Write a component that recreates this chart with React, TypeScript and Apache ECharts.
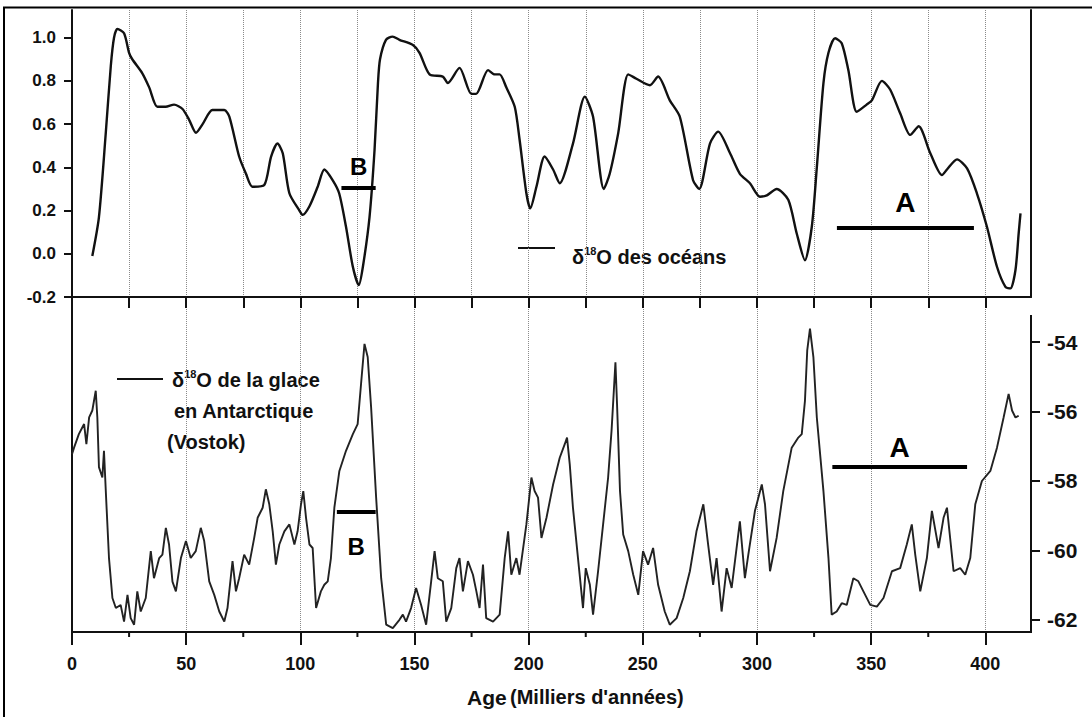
import React, { useEffect, useRef } from "react";
import * as echarts from "echarts";

// ---- data ----
const oceanAge = [8.9, 11.8, 14.8, 17, 18.4, 19.9, 22.8, 25, 26.4, 30.8, 33.8, 37.4, 41, 44.7, 48.4, 51.3, 54.3, 57.2, 61.5, 66.7, 68.9, 73.2, 76.2, 79, 84.2, 87.2, 90, 92.3, 95.2, 99.6, 101, 104, 107.6, 110.5, 114.2, 117, 120, 123, 125.6, 127.4, 130.3, 132.5, 134, 134.9, 137.5, 140.4, 143.4, 149.3, 152.2, 156.6, 162.4, 164.6, 169.7, 174.9, 177, 182.2, 185.1, 187.3, 190.2, 193.9, 196, 199, 200.7, 203.4, 207, 210.7, 213.6, 219.4, 224.6, 228.2, 232.9, 235.5, 239.2, 243.6, 247.2, 253.1, 256.7, 261.8, 266.2, 272, 274.7, 279.4, 283, 288.2, 292.5, 296.9, 301.3, 304.3, 308.6, 313.7, 317.4, 321, 324, 326.2, 329.1, 331.3, 334.2, 337.1, 340, 343.7, 348, 350.3, 354.7, 358.3, 362.7, 367.1, 370.8, 375.9, 381, 383.2, 387.6, 392, 396.3, 400.7, 405.1, 408.8, 411, 413.2, 414.6, 415.4];
const oceanD18O = [-0.01, 0.17, 0.56, 0.87, 1.0, 1.04, 1.02, 0.93, 0.9, 0.835, 0.77, 0.68, 0.68, 0.69, 0.67, 0.62, 0.56, 0.6, 0.665, 0.665, 0.635, 0.45, 0.37, 0.31, 0.318, 0.45, 0.51, 0.465, 0.28, 0.2, 0.18, 0.22, 0.31, 0.39, 0.34, 0.28, 0.125, -0.06, -0.145, -0.06, 0.17, 0.48, 0.79, 0.9, 0.99, 1.005, 0.99, 0.966, 0.93, 0.83, 0.82, 0.79, 0.86, 0.74, 0.74, 0.85, 0.83, 0.83, 0.77, 0.68, 0.53, 0.28, 0.21, 0.31, 0.45, 0.39, 0.326, 0.51, 0.727, 0.634, 0.3, 0.37, 0.557, 0.83, 0.81, 0.78, 0.82, 0.71, 0.634, 0.34, 0.3, 0.51, 0.565, 0.465, 0.37, 0.326, 0.264, 0.27, 0.3, 0.25, 0.094, -0.03, 0.125, 0.4, 0.79, 0.93, 0.997, 0.974, 0.85, 0.657, 0.69, 0.71, 0.8, 0.76, 0.65, 0.55, 0.59, 0.465, 0.364, 0.39, 0.437, 0.395, 0.28, 0.125, -0.06, -0.153, -0.16, -0.075, 0.094, 0.187];

const iceAge = [0, 0.9, 3, 5.3, 6.3, 7.5, 8.9, 10.4, 11.1, 11.8, 13.3, 14, 14.8, 16.2, 17.7, 19.2, 21.3, 22.8, 24.3, 25.7, 27.2, 28.6, 30.1, 32.3, 34.5, 35.9, 38.2, 39.6, 41.1, 42.5, 44, 45.5, 47.7, 49.9, 52, 54.2, 56.4, 57.9, 60.1, 62.3, 64.5, 66.7, 68.1, 70.3, 71.8, 73.2, 75.4, 77.6, 79.8, 81.3, 83.5, 84.9, 86.4, 87.9, 89.3, 90.8, 93, 95.2, 97.4, 98.8, 100.3, 101.3, 102.5, 104, 105.4, 106.9, 109, 110.5, 112, 113.4, 114.9, 117.1, 120, 123, 125.1, 126.6, 128.1, 129.5, 131, 133.2, 135.4, 137.6, 140.5, 143.4, 144.9, 146.3, 148.5, 150.7, 152.9, 155.1, 157.3, 158.8, 160.2, 162.4, 163.9, 166.1, 168.3, 169.7, 171.2, 173.4, 175.6, 177.1, 178.5, 180, 181.4, 184.4, 187.3, 189.5, 191, 192.4, 194.6, 196, 199, 201.2, 202.6, 204.1, 205.6, 207.8, 210.7, 213.6, 215.8, 216.8, 218, 219.4, 221.6, 223.8, 225, 226.8, 228.2, 230.4, 232.6, 234.8, 236.3, 237.3, 238, 238.7, 240, 241.4, 243.6, 245.8, 248, 250.1, 252.3, 254.5, 256.7, 259.6, 261.8, 264.8, 267.7, 270.6, 273.5, 276.5, 278.6, 280.8, 282.3, 284.5, 286.7, 288.9, 292.5, 294.7, 296.2, 299.1, 302.1, 303.5, 305.7, 308.6, 311.5, 315.2, 318.1, 319.6, 321, 322, 323.2, 324.7, 326.2, 329.1, 331.3, 332.7, 334.9, 337.1, 339.3, 342.2, 344.4, 346.6, 349.6, 352.5, 355.4, 359.1, 362.7, 365.6, 367.8, 369.3, 371.5, 374.4, 376.6, 379.5, 381.7, 383.2, 386.1, 389, 391.2, 393.4, 395.6, 398.5, 402.2, 405.1, 408, 410.2, 411.7, 413.2, 414.6];
const iceD18O = [-57.23, -57.04, -56.65, -56.36, -56.94, -56.17, -55.97, -55.4, -56.17, -57.6, -57.9, -57.13, -58.29, -60.22, -61.37, -61.66, -61.57, -62.05, -61.28, -61.95, -62.14, -61.18, -61.76, -61.37, -60.02, -60.8, -60.22, -60.12, -59.35, -59.83, -60.9, -61.18, -60.22, -59.73, -60.22, -60.02, -59.35, -59.73, -60.89, -61.28, -61.76, -62.05, -61.66, -60.31, -61.18, -60.8, -60.12, -60.41, -59.64, -59.06, -58.77, -58.24, -58.67, -59.45, -60.41, -59.83, -59.45, -59.25, -59.83, -59.45, -58.67, -58.29, -59.06, -59.83, -59.93, -61.66, -61.18, -60.99, -60.89, -60.22, -58.77, -57.71, -57.13, -56.65, -56.36, -55.2, -54.05, -54.43, -55.88, -58.48, -60.8, -62.14, -62.24, -62, -61.85, -62.05, -61.66, -61.08, -61.57, -62.14, -60.89, -60.02, -60.8, -60.89, -62.05, -61.66, -60.51, -60.22, -61.18, -60.31, -60.7, -61.18, -61.66, -60.41, -61.95, -62.05, -61.85, -60.22, -59.45, -60.7, -60.22, -60.7, -59.25, -57.9, -58.29, -58.48, -59.64, -59.06, -58.1, -57.33, -56.94, -56.75, -57.52, -58.77, -60.22, -61.66, -60.51, -60.99, -61.85, -60.6, -59.25, -57.9, -56.55, -55.4, -54.58, -55.78, -58.29, -59.54, -60.02, -60.7, -61.28, -60.02, -60.41, -59.93, -60.99, -61.76, -62.14, -61.95, -61.37, -60.6, -59.45, -58.67, -59.83, -60.99, -60.22, -61.76, -60.51, -61.08, -59.16, -60.8, -60.12, -58.86, -58.1, -58.67, -60.6, -59.64, -58.29, -57.04, -56.75, -56.65, -55.69, -54.24, -53.61, -54.43, -56.17, -58.29, -60.22, -61.85, -61.76, -61.52, -61.57, -60.8, -60.89, -61.18, -61.57, -61.62, -61.37, -60.6, -60.51, -59.83, -59.25, -60.12, -61.18, -60.22, -58.86, -59.93, -59.06, -58.77, -60.6, -60.51, -60.7, -60.22, -58.67, -58, -57.71, -57.04, -56.17, -55.49, -55.97, -56.17, -56.12];

const oceanTicks = [-0.2, 0, 0.2, 0.4, 0.6, 0.8, 1.0];
const iceTicks = [-62, -60, -58, -56, -54];
const ageLabels = [0, 50, 100, 150, 200, 250, 300, 350, 400];
const ageTicksAll = [0, 25, 50, 75, 100, 125, 150, 175, 200, 225, 250, 275, 300, 325, 350, 375, 400];
const ageMinorTicks = [25, 75, 125, 175, 225, 275, 325, 375];

// annotation bars: [label, startAge, endAge, level]
const oceanBars: [string, number, number, number][] = [
  ["B", 118, 133, 0.305],
  ["A", 335, 395, 0.119],
];
const iceBars: [string, number, number, number][] = [
  ["B", 116, 133, -58.9],
  ["A", 333, 392, -57.6],
];

const FONT = '"Liberation Sans", Arial, sans-serif';
const NARROW = '"Liberation Sans Narrow", "Liberation Sans", Arial, sans-serif';
const INK = "#111";
const ICE_MIN = -62.35;

export default function App() {
  const ref = useRef<HTMLDivElement>(null);
  useEffect(() => {
    if (!ref.current) return;
    const chart = echarts.init(ref.current, null, { renderer: "svg" });

    const barLine = (
      b: [string, number, number, number],
      fontSize: number,
      pos: string,
      dist: number
    ) => [
      {
        coord: [b[1], b[3]],
        label: {
          show: true,
          formatter: b[0],
          position: pos,
          distance: dist,
          fontSize,
          fontWeight: "bold",
          fontFamily: FONT,
          color: "#000",
        },
      },
      { coord: [b[2], b[3]] },
    ];

    const gridLine = { show: true, lineStyle: { type: "dotted", color: "#8a8a8a", width: 1 } };

    const option: any = {
      animation: false,
      backgroundColor: "#fff",
      grid: [
        { left: 72, right: 61, top: 10, height: 287, outerBoundsMode: "none" },
        { left: 72, right: 61, top: 297, bottom: 85, outerBoundsMode: "none" },
      ],
      xAxis: [
        {
          type: "value",
          gridIndex: 0,
          min: 0,
          max: 420,
          interval: 25,
          position: "bottom",
          axisLine: { show: true, onZero: false, lineStyle: { color: INK, width: 2 } },
          axisTick: { show: true, customValues: ageTicksAll, length: 11, lineStyle: { color: INK, width: 2 } },
          axisLabel: { show: false },
          splitLine: gridLine,
        },
        {
          type: "value",
          gridIndex: 1,
          min: 0,
          max: 420,
          interval: 25,
          position: "bottom",
          axisLine: { show: true, onZero: false, lineStyle: { color: INK, width: 2 } },
          axisTick: { show: true, customValues: ageLabels, length: 13, lineStyle: { color: INK, width: 2 } },
          axisLabel: {
            show: true,
            customValues: ageLabels,
            margin: 23,
            fontSize: 18,
            fontWeight: "bold",
            fontFamily: FONT,
            color: INK,
          },
          splitLine: gridLine,
        },
      ],
      yAxis: [
        {
          type: "value",
          gridIndex: 0,
          position: "left",
          min: -0.2,
          max: 1.128,
          axisLine: { show: true, onZero: false, lineStyle: { color: INK, width: 2 } },
          axisTick: { show: true, customValues: oceanTicks, length: 8, lineStyle: { color: INK, width: 2 } },
          axisLabel: {
            show: true,
            customValues: oceanTicks,
            margin: 16,
            fontSize: 17,
            fontWeight: "bold",
            fontFamily: FONT,
            color: INK,
            formatter: (v: number) => v.toFixed(1),
          },
          splitLine: { show: false },
        },
        {
          type: "value",
          gridIndex: 0,
          position: "right",
          min: 0,
          max: 1,
          axisLine: { show: true, onZero: false, lineStyle: { color: INK, width: 2 } },
          axisTick: { show: false },
          axisLabel: { show: false },
          splitLine: { show: false },
        },
        {
          type: "value",
          gridIndex: 1,
          position: "left",
          min: 0,
          max: 1,
          axisLine: { show: true, onZero: false, lineStyle: { color: INK, width: 2 } },
          axisTick: { show: false },
          axisLabel: { show: false },
          splitLine: { show: false },
        },
        {
          type: "value",
          gridIndex: 1,
          position: "right",
          min: ICE_MIN,
          max: -52.7,
          axisLine: { show: false, onZero: false },
          axisTick: { show: true, customValues: iceTicks, length: 9, lineStyle: { color: INK, width: 2 } },
          axisLabel: {
            show: true,
            customValues: iceTicks,
            margin: 16,
            fontSize: 21,
            fontWeight: "bold",
            fontFamily: NARROW,
            color: INK,
          },
          splitLine: { show: false },
        },
      ],
      series: [
        {
          type: "line",
          xAxisIndex: 0,
          yAxisIndex: 0,
          data: oceanAge.map((a, i) => [a, oceanD18O[i]]),
          showSymbol: false,
          smooth: 0.25,
          lineStyle: { color: INK, width: 2.4 },
          markLine: {
            silent: true,
            symbol: ["none", "none"],
            lineStyle: { color: "#000", width: 4, type: "solid" },
            data: [
              barLine(oceanBars[0], 24, "insideMiddleTop", 9),
              barLine(oceanBars[1], 28, "insideMiddleTop", 12),
            ],
          },
        },
        {
          type: "line",
          xAxisIndex: 1,
          yAxisIndex: 3,
          data: iceAge.map((a, i) => [a, iceD18O[i]]),
          showSymbol: false,
          lineStyle: { color: "#222", width: 1.9 },
          markLine: {
            silent: true,
            symbol: ["none", "none"],
            lineStyle: { color: "#000", width: 4, type: "solid" },
            data: [
              barLine(iceBars[0], 24, "insideMiddleBottom", 22),
              barLine(iceBars[1], 28, "insideMiddleTop", 6),
            ],
          },
        },
        {
          // short minor ticks of the age axis
          type: "custom",
          xAxisIndex: 1,
          yAxisIndex: 3,
          silent: true,
          clip: false,
          data: ageMinorTicks.map((v) => [v, ICE_MIN]),
          renderItem: (params: any, api: any) => {
            const p = api.coord([api.value(0), api.value(1)]);
            return {
              type: "line",
              shape: { x1: p[0], y1: p[1], x2: p[0], y2: p[1] + 5 },
              style: { stroke: INK, lineWidth: 2 },
            };
          },
        },
      ],
      graphic: [
        {
          type: "rect",
          shape: { x: 4, y: 7.5, width: 1200, height: 800 },
          style: { fill: "none", stroke: "#000", lineWidth: 2 },
          silent: true,
        },
        {
          type: "line",
          shape: { x1: 1031, y1: 315, x2: 1031, y2: 633 },
          style: { stroke: INK, lineWidth: 2 },
          silent: true,
        },
        {
          type: "line",
          shape: { x1: 518, y1: 248, x2: 555, y2: 248 },
          style: { stroke: INK, lineWidth: 2 },
          silent: true,
        },
        {
          type: "text",
          x: 572,
          y: 257,
          silent: true,
          style: {
            text: "{d|δ}{s|18}{d|O des océans}",
            verticalAlign: "middle",
            rich: {
              d: { fontSize: 20, fontWeight: "bold", fontFamily: FONT, fill: INK, lineHeight: 24 },
              s: { fontSize: 11, fontWeight: "bold", fontFamily: FONT, fill: INK, verticalAlign: "top", lineHeight: 24 },
            },
          },
        },
        {
          type: "line",
          shape: { x1: 117, y1: 379, x2: 163, y2: 379 },
          style: { stroke: INK, lineWidth: 2 },
          silent: true,
        },
        {
          type: "text",
          x: 172,
          y: 380,
          silent: true,
          style: {
            text: "{d|δ}{s|18}{d|O de la glace}",
            verticalAlign: "middle",
            rich: {
              d: { fontSize: 20, fontWeight: "bold", fontFamily: FONT, fill: INK, lineHeight: 24 },
              s: { fontSize: 11, fontWeight: "bold", fontFamily: FONT, fill: INK, verticalAlign: "top", lineHeight: 24 },
            },
          },
        },
        {
          type: "text",
          x: 174,
          y: 411,
          silent: true,
          style: { text: "en Antarctique", verticalAlign: "middle", fontSize: 20, fontWeight: "bold", fontFamily: FONT, fill: INK },
        },
        {
          type: "text",
          x: 167,
          y: 442,
          silent: true,
          style: { text: "(Vostok)", verticalAlign: "middle", fontSize: 20, fontWeight: "bold", fontFamily: FONT, fill: INK },
        },
        {
          type: "text",
          x: 467,
          y: 697,
          silent: true,
          style: {
            text: "{a|Age} {b|(Milliers d'années)}",
            verticalAlign: "middle",
            rich: {
              a: { fontSize: 21, fontWeight: "bold", fontFamily: FONT, fill: INK },
              b: { fontSize: 20, fontWeight: "bold", fontFamily: NARROW, fill: INK },
            },
          },
        },
      ],
    };
    chart.setOption(option);
    return () => chart.dispose();
  }, []);

  return (
    <div
      ref={ref}
      style={{ position: "fixed", left: 0, top: 0, width: 1092, height: 717, background: "#fff" }}
    />
  );
}
